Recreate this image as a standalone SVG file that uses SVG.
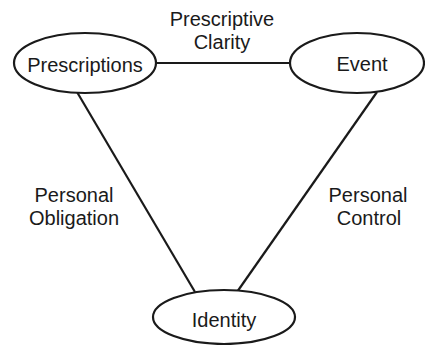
<svg xmlns="http://www.w3.org/2000/svg" width="425" height="345" viewBox="0 0 425 345">
<style>
.node ellipse{fill:#fff;stroke:#1a1a1a;stroke-width:2.2}
.edges line{stroke:#1a1a1a;stroke-width:2.2}
text{font-family:"Liberation Sans",Arial,sans-serif;font-size:20px;fill:#1a1a1a;text-anchor:middle}
</style>
<rect width="425" height="345" fill="#fff"/>
<g class="edges" id="connectors">
<line x1="156" y1="63" x2="290" y2="63"/>
<line x1="77" y1="92" x2="195" y2="292"/>
<line x1="377" y1="92" x2="237" y2="292"/>
</g>
<g class="node" id="prescriptions">
<ellipse cx="85" cy="63" rx="71" ry="30"/>
<text x="85" y="72">Prescriptions</text>
</g>
<g class="node" id="event">
<ellipse cx="357" cy="63" rx="67" ry="30"/>
<text x="362" y="71">Event</text>
</g>
<g class="node" id="identity">
<ellipse cx="224" cy="317" rx="71" ry="27"/>
<text x="224" y="327">Identity</text>
</g>
<g id="labels">
<text x="222" y="26">Prescriptive</text>
<text x="222" y="49">Clarity</text>
<text x="74" y="202">Personal</text>
<text x="74" y="225">Obligation</text>
<text x="368" y="202">Personal</text>
<text x="369" y="225">Control</text>
</g>
</svg>
